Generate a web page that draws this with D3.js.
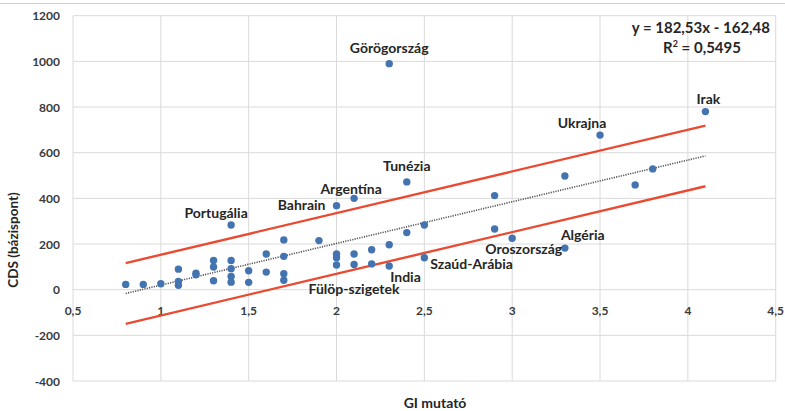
<!DOCTYPE html>
<html>
<head>
<meta charset="utf-8">
<script src="https://cdn.jsdelivr.net/npm/d3@7"></script>
<style>
  html, body { margin: 0; padding: 0; background: #ffffff; }
  svg { display: block; }
  text { font-family: Lato, "Open Sans", sans-serif; font-weight: bold; }
</style>
</head>
<body>
<svg id="chart" width="785" height="411"></svg>
<script>
// ---- data ----
const giValues  = [0.8, 0.9, 1.0, 1.1, 1.1, 1.1, 1.2, 1.2, 1.3, 1.3, 1.3, 1.4, 1.4, 1.4, 1.4, 1.4,
                   1.5, 1.5, 1.6, 1.6, 1.7, 1.7, 1.7, 1.7, 1.9, 2.0, 2.0, 2.0, 2.0, 2.1, 2.1, 2.1,
                   2.2, 2.2, 2.3, 2.3, 2.3, 2.4, 2.4, 2.5, 2.5, 2.9, 2.9, 3.0, 3.3, 3.3, 3.5, 3.7, 3.8, 4.1];
const cdsValues = [23, 23, 26, 90, 36, 19, 72, 65, 128, 99, 39, 283, 128, 92, 58, 33,
                   83, 32, 156, 77, 218, 146, 70, 41, 215, 368, 156, 140, 108, 400, 156, 110,
                   175, 113, 990, 197, 104, 472, 250, 283, 140, 412, 266, 225, 498, 182, 677, 459, 529, 780];

const labelNames = ["Görögország", "Irak", "Ukrajna", "Tunézia", "Argentína", "Bahrain", "Portugália",
                    "Fülöp-szigetek", "India", "Szaúd-Arábia", "Oroszország", "Algéria"];
const labelGi    = [2.3, 4.1, 3.5, 2.4, 2.1, 2.0, 1.4, 2.0, 2.3, 2.5, 3.0, 3.3];
const labelCds   = [990, 780, 677, 472, 400, 368, 283, 108, 104, 140, 225, 182];

const xTicks = [0.5, 1, 1.5, 2, 2.5, 3, 3.5, 4, 4.5];
const yTicks = [-400, -200, 0, 200, 400, 600, 800, 1000, 1200];

const trendSlope = 182.53, trendIntercept = -162.48, bandHalfWidth = 133;
const trendRange = [0.8, 4.1];
const equationText = "y = 182,53x - 162,48";
const r2Value = "0,5495";
const xTitle = "GI mutató";
const yTitle = "CDS (bázispont)";

// ---- layout ----
const svg = d3.select("#chart");
const x = d3.scaleLinear().domain([0.5, 4.5]).range([73, 775.7]);
const y = d3.scaleLinear().domain([-400, 1200]).range([381, 15.7]);
const fmt = v => String(v).replace(".", ",");

// page border line at top
svg.append("line").attr("x1", 0).attr("x2", 785).attr("y1", 3.5).attr("y2", 3.5)
  .attr("stroke", "#c9d1dc").attr("stroke-width", 1.2);

// grid
const grid = svg.append("g");
grid.selectAll(".vg").data(xTicks).join("line")
  .attr("x1", d => x(d)).attr("x2", d => x(d))
  .attr("y1", y(1200)).attr("y2", y(-400))
  .attr("stroke", "#dadada").attr("stroke-width", 1);
grid.selectAll(".hg").data(yTicks).join("line")
  .attr("x1", x(0.5)).attr("x2", x(4.5))
  .attr("y1", d => y(d)).attr("y2", d => y(d))
  .attr("stroke", "#dadada").attr("stroke-width", 1);

// y tick labels
svg.append("g").selectAll("text").data(yTicks).join("text")
  .attr("x", 60).attr("y", d => y(d) + 4.5)
  .attr("text-anchor", "end").attr("font-size", 12).attr("fill", "#3a3a3a")
  .text(d => d);

// x tick labels (axis crosses at 0)
svg.append("g").selectAll("text").data(xTicks).join("text")
  .attr("x", d => x(d)).attr("y", y(0) + 25)
  .attr("text-anchor", "middle").attr("font-size", 12).attr("fill", "#3a3a3a")
  .text(d => fmt(d));

// trend band lines (red)
const lineGen = d3.line().x(d => x(d[0])).y(d => y(d[1]));
[bandHalfWidth, -bandHalfWidth].forEach(off => {
  svg.append("path")
    .datum(trendRange.map(g => [g, trendSlope * g + trendIntercept + off]))
    .attr("d", lineGen).attr("fill", "none")
    .attr("stroke", "#ea4a32").attr("stroke-width", 2.4);
});
// dotted trendline
svg.append("path")
  .datum(trendRange.map(g => [g, trendSlope * g + trendIntercept]))
  .attr("d", lineGen).attr("fill", "none")
  .attr("stroke", "#555555").attr("stroke-width", 1.6).attr("stroke-dasharray", "1.2,1.2");

// points
svg.append("g").selectAll("circle").data(giValues.map((g, i) => [g, cdsValues[i]])).join("circle")
  .attr("cx", d => x(d[0])).attr("cy", d => y(d[1])).attr("r", 3.7)
  .attr("fill", "#4474b0");

// point labels
const labelPlace = {
  "Görögország":    {dx: 0,   dy: -11, a: "middle"},
  "Irak":           {dx: 3,   dy: -8,  a: "middle"},
  "Ukrajna":        {dx: -18, dy: -7,  a: "middle"},
  "Tunézia":        {dx: 0,   dy: -11, a: "middle"},
  "Argentína":      {dx: -3,  dy: -4,  a: "middle"},
  "Bahrain":        {dx: -11, dy: 4,   a: "end"},
  "Portugália":     {dx: -15, dy: -7,  a: "middle"},
  "Fülöp-szigetek": {dx: -28, dy: 29,  a: "start"},
  "India":          {dx: 1,   dy: 16,  a: "start"},
  "Szaúd-Arábia":   {dx: 6,   dy: 11,  a: "start"},
  "Oroszország":    {dx: -27, dy: 16,  a: "start"},
  "Algéria":        {dx: -4,  dy: -8,  a: "start"}
};
svg.append("g").selectAll("text").data(labelNames.map((n, i) => ({n, g: labelGi[i], c: labelCds[i]}))).join("text")
  .attr("x", d => x(d.g) + labelPlace[d.n].dx)
  .attr("y", d => y(d.c) + labelPlace[d.n].dy)
  .attr("text-anchor", d => labelPlace[d.n].a)
  .attr("font-size", 14).attr("fill", "#262626")
  .text(d => d.n);

// equation
svg.append("text").attr("x", 770).attr("y", 33).attr("text-anchor", "end")
  .attr("font-size", 15).attr("fill", "#262626").text(equationText);
const r2 = svg.append("text").attr("x", 702).attr("y", 53).attr("text-anchor", "middle")
  .attr("font-size", 15).attr("fill", "#262626");
r2.append("tspan").text("R");
r2.append("tspan").attr("font-size", 9).attr("dy", -6).text("2");
r2.append("tspan").attr("dy", 6).text(" = " + r2Value);

// axis titles
svg.append("text").attr("x", 435).attr("y", 408).attr("text-anchor", "middle")
  .attr("font-size", 14).attr("fill", "#262626").text(xTitle);
svg.append("text").attr("transform", "translate(18,240) rotate(-90)")
  .attr("text-anchor", "middle").attr("font-size", 13.5).attr("fill", "#262626").text(yTitle);
</script>
</body>
</html>
